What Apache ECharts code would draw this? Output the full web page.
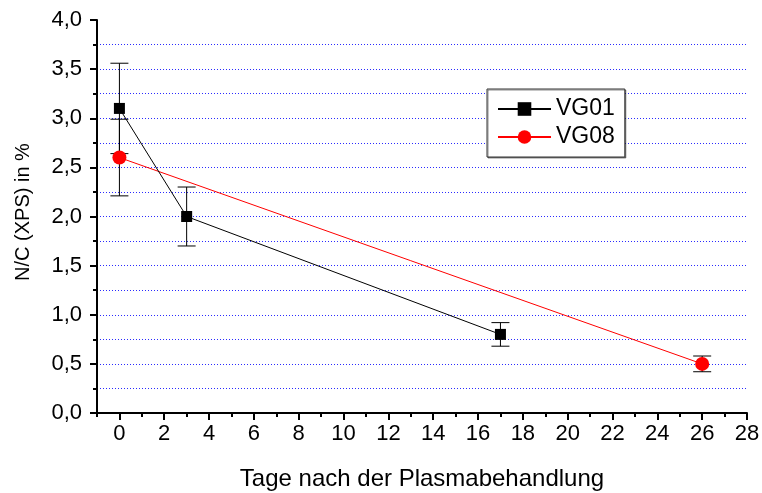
<!DOCTYPE html>
<html>
<head>
<meta charset="utf-8">
<script src="https://cdn.jsdelivr.net/npm/echarts@6/dist/echarts.min.js"></script>
<style>
  html, body { margin: 0; padding: 0; background: #fff; }
  #chart { width: 762px; height: 493px; }
</style>
</head>
<body>
<div id="chart"></div>
<script>
// Measured N/C ratios (XPS) over days after plasma treatment
const vg01Days = [0, 3, 17];
const vg01Values = [3.1, 2.0, 0.8];
const vg01Errors = [0.46, 0.3, 0.12];

const vg08Days = [0, 26];
const vg08Values = [2.6, 0.5];
const vg08Errors = [0.39, 0.08];

// Axis ticks
const xMajorTicks = [0, 2, 4, 6, 8, 10, 12, 14, 16, 18, 20, 22, 24, 26, 28];
const xMinorTicks = [-1, 1, 3, 5, 7, 9, 11, 13, 15, 17, 19, 21, 23, 25, 27];

const FONT = '"Liberation Sans", Arial, sans-serif';
const gridStyle = { color: '#2b2bff', width: 1, type: [1, 2] };

function errorBars(name, days, values, errors) {
  return {
    name: name,
    type: 'custom',
    silent: true,
    z: 1,
    data: days.map((d, i) => [d, values[i] - errors[i], values[i] + errors[i]]),
    encode: { x: 0, y: [1, 2] },
    renderItem: function (params, api) {
      const x = api.value(0);
      const lo = api.coord([x, api.value(1)]);
      const hi = api.coord([x, api.value(2)]);
      const half = 9;
      const style = { stroke: '#000', lineWidth: 1, fill: null };
      return {
        type: 'group',
        children: [
          { type: 'line', shape: { x1: lo[0], y1: lo[1], x2: hi[0], y2: hi[1] }, style: style },
          { type: 'line', shape: { x1: lo[0] - half, y1: lo[1], x2: lo[0] + half, y2: lo[1] }, style: style },
          { type: 'line', shape: { x1: hi[0] - half, y1: hi[1], x2: hi[0] + half, y2: hi[1] }, style: style }
        ]
      };
    }
  };
}

const chart = echarts.init(document.getElementById('chart'));
chart.setOption({
  animation: false,
  backgroundColor: '#fff',
  textStyle: { fontFamily: FONT },
  grid: { left: 97, right: 15, top: 20, bottom: 80, containLabel: false, outerBoundsMode: 'none' },
  legend: {
    data: ['VG01', 'VG08'],
    orient: 'vertical',
    left: 487,
    top: 89,
    itemWidth: 53,
    itemHeight: 17,
    itemGap: 4,
    padding: [8, 10, 8, 10],
    backgroundColor: '#fff',
    borderColor: '#333',
    borderWidth: 1,
    shadowColor: 'rgba(0,0,0,0.45)',
    shadowOffsetX: 1,
    shadowOffsetY: 1,
    textStyle: { fontFamily: FONT, fontSize: 23, color: '#000', lineHeight: 24 }
  },
  xAxis: [
    {
      type: 'value',
      min: -1,
      max: 28,
      name: 'Tage nach der Plasmabehandlung',
      nameLocation: 'middle',
      nameGap: 54,
      nameTextStyle: { fontFamily: FONT, fontSize: 24, color: '#000' },
      axisLine: { show: true, onZero: false, lineStyle: { color: '#000', width: 2 } },
      axisTick: { show: true, customValues: xMajorTicks, length: 7, inside: false, lineStyle: { color: '#000', width: 2 } },
      axisLabel: { customValues: xMajorTicks, fontFamily: FONT, fontSize: 22, color: '#000', margin: 10 },
      splitLine: { show: false }
    },
    {
      type: 'value',
      min: -1,
      max: 28,
      position: 'bottom',
      axisLine: { show: false },
      axisTick: { show: true, customValues: xMinorTicks, length: 4, lineStyle: { color: '#000', width: 2 } },
      axisLabel: { show: false },
      splitLine: { show: false }
    }
  ],
  yAxis: {
    type: 'value',
    min: 0,
    max: 4,
    interval: 0.5,
    name: 'N/C (XPS) in %',
    nameLocation: 'middle',
    nameGap: 64,
    nameTextStyle: { fontFamily: FONT, fontSize: 20, color: '#000', padding: [0, 0, 0, 9] },
    axisLine: { show: true, onZero: false, lineStyle: { color: '#000', width: 2 } },
    axisTick: { show: true, length: 7, lineStyle: { color: '#000', width: 2 } },
    minorTick: { show: true, splitNumber: 2, length: 4, lineStyle: { color: '#000', width: 2 } },
    axisLabel: {
      fontFamily: FONT, fontSize: 22, color: '#000', margin: 15,
      formatter: v => v.toFixed(1).replace('.', ',')
    },
    splitLine: { show: true, showMinLine: false, showMaxLine: false, lineStyle: gridStyle },
    minorSplitLine: { show: true, lineStyle: gridStyle }
  },
  series: [
    errorBars('VG01 Fehler', vg01Days, vg01Values, vg01Errors),
    errorBars('VG08 Fehler', vg08Days, vg08Values, vg08Errors),
    {
      name: 'VG08',
      type: 'line',
      z: 3,
      data: vg08Days.map((d, i) => [d, vg08Values[i]]),
      symbol: 'circle',
      symbolSize: 14,
      itemStyle: { color: '#ff0000' },
      lineStyle: { color: '#ff0000', width: 1 }
    },
    {
      name: 'VG01',
      type: 'line',
      z: 4,
      data: vg01Days.map((d, i) => [d, vg01Values[i]]),
      symbol: 'rect',
      symbolSize: 11,
      itemStyle: { color: '#000' },
      lineStyle: { color: '#000', width: 1 }
    }
  ]
});
</script>
</body>
</html>
